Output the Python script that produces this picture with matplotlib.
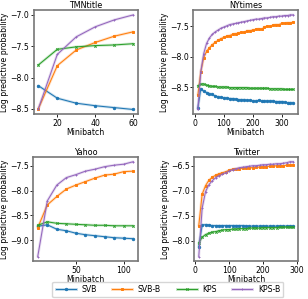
"""Log predictive probability vs minibatch for four datasets."""
import matplotlib
matplotlib.use("Agg")
import matplotlib.pyplot as plt
from matplotlib.lines import Line2D

plt.rcParams["font.family"] = ["DejaVu Sans"]
plt.rcParams["font.size"] = 5.6

METHODS = ["SVB", "SVB-B", "KPS", "KPS-B"]
COLORS = ["#1f77b4", "#ff7f0e", "#2ca02c", "#9467bd"]
MARKERS = ["o", "s", "x", "+"]

# ---- TMNtitle ----
tmn_x = [10, 20, 30, 40, 50, 60]
tmn_svb = [-8.13, -8.33, -8.41, -8.45, -8.48, -8.51]
tmn_svbb = [-8.50, -7.81, -7.56, -7.44, -7.34, -7.27]
tmn_kps = [-7.80, -7.55, -7.51, -7.49, -7.48, -7.46]
tmn_kpsb = [-8.50, -7.63, -7.35, -7.19, -7.08, -7.00]

# ---- NYtimes ----
nyt_x = list(range(10, 341, 10))
nyt_svb = [-8.84, -8.53, -8.57, -8.59, -8.61, -8.62, -8.65, -8.66, -8.67, -8.68,
           -8.68, -8.69, -8.69, -8.70, -8.71, -8.71, -8.71, -8.72, -8.72, -8.73,
           -8.73, -8.72, -8.73, -8.73, -8.73, -8.73, -8.73, -8.74, -8.74, -8.74,
           -8.75, -8.76, -8.76, -8.76]
nyt_svbb = [-8.63, -8.25, -8.02, -7.91, -7.85, -7.80, -7.76, -7.73, -7.70, -7.68,
            -7.66, -7.65, -7.63, -7.62, -7.61, -7.60, -7.60, -7.57, -7.57, -7.56,
            -7.55, -7.54, -7.55, -7.51, -7.50, -7.50, -7.48, -7.47, -7.47, -7.45,
            -7.45, -7.44, -7.44, -7.43]
nyt_kps = [-8.48, -8.45, -8.45, -8.47, -8.48, -8.49, -8.49, -8.50, -8.50, -8.50,
           -8.50, -8.51, -8.51, -8.51, -8.51, -8.51, -8.51, -8.51, -8.52, -8.52,
           -8.52, -8.52, -8.52, -8.52, -8.52, -8.53, -8.53, -8.53, -8.53, -8.53,
           -8.54, -8.54, -8.54, -8.54]
nyt_kpsb = [-8.87, -8.25, -7.95, -7.78, -7.69, -7.63, -7.59, -7.56, -7.53, -7.51,
            -7.49, -7.47, -7.46, -7.45, -7.44, -7.43, -7.42, -7.41, -7.40, -7.39,
            -7.38, -7.38, -7.37, -7.36, -7.36, -7.35, -7.34, -7.34, -7.33, -7.33,
            -7.32, -7.32, -7.31, -7.31]

# ---- Yahoo ----
yah_x = [10, 20, 30, 40, 50, 60, 70, 80, 90, 100, 110]
yah_svb = [-8.72, -8.69, -8.78, -8.81, -8.86, -8.89, -8.91, -8.93, -8.95, -8.96, -8.97]
yah_svbb = [-8.75, -8.29, -8.12, -7.97, -7.89, -7.82, -7.75, -7.69, -7.67, -7.62, -7.61]
yah_kps = [-8.70, -8.63, -8.66, -8.67, -8.68, -8.69, -8.70, -8.70, -8.71, -8.71, -8.71]
yah_kpsb = [-9.33, -8.21, -7.89, -7.74, -7.68, -7.61, -7.57, -7.52, -7.49, -7.47, -7.42]

# ---- Twitter ----
twt_x = list(range(10, 291, 10))
twt_svb = [-8.12, -7.69, -7.68, -7.69, -7.70, -7.70, -7.70, -7.70, -7.70, -7.70,
           -7.70, -7.70, -7.70, -7.70, -7.71, -7.71, -7.71, -7.71, -7.71, -7.71,
           -7.71, -7.71, -7.71, -7.71, -7.71, -7.71, -7.71, -7.71, -7.71]
twt_svbb = [-7.70, -7.07, -6.90, -6.79, -6.73, -6.69, -6.66, -6.64, -6.62, -6.59,
            -6.57, -6.56, -6.56, -6.55, -6.55, -6.54, -6.54, -6.53, -6.53, -6.52,
            -6.52, -6.51, -6.51, -6.50, -6.50, -6.50, -6.49, -6.49, -6.48]
twt_kps = [-8.05, -7.93, -7.88, -7.85, -7.83, -7.82, -7.80, -7.79, -7.78, -7.78,
           -7.77, -7.77, -7.76, -7.76, -7.76, -7.75, -7.75, -7.75, -7.75, -7.74,
           -7.74, -7.74, -7.74, -7.74, -7.73, -7.73, -7.73, -7.73, -7.73]
twt_kpsb = [-8.32, -7.35, -7.02, -6.88, -6.80, -6.74, -6.70, -6.67, -6.64, -6.61,
            -6.58, -6.56, -6.54, -6.53, -6.52, -6.51, -6.50, -6.50, -6.49, -6.48,
            -6.48, -6.47, -6.47, -6.46, -6.46, -6.45, -6.44, -6.42, -6.42]

PANELS = [
    ("TMNtitle", tmn_x, [tmn_svb, tmn_svbb, tmn_kps, tmn_kpsb], [20, 40, 60]),
    ("NYtimes", nyt_x, [nyt_svb, nyt_svbb, nyt_kps, nyt_kpsb], [0, 100, 200, 300]),
    ("Yahoo", yah_x, [yah_svb, yah_svbb, yah_kps, yah_kpsb], [50, 100]),
    ("Twitter", twt_x, [twt_svb, twt_svbb, twt_kps, twt_kpsb], [0, 100, 200, 300]),
]

# axes rectangles in figure fractions (left, bottom, width, height)
RECTS = [
    (0.109, 0.618, 0.339, 0.348),
    (0.627, 0.618, 0.341, 0.348),
    (0.107, 0.126, 0.341, 0.349),
    (0.630, 0.126, 0.338, 0.349),
]


def draw(ax, title, xs, series, xticks):
    for ys, c, m in zip(series, COLORS, MARKERS):
        ax.plot(xs, ys, color=c, lw=2.0, alpha=0.22, solid_capstyle="round")
        ax.plot(xs, ys, color=c, lw=0.75, marker=m, ms=1.7, mew=0.7)
    ax.set_title(title, fontsize=5.8, pad=1.5)
    ax.set_xlabel("Minibatch", labelpad=0)
    ax.set_ylabel("Log predictive probability", labelpad=0.8)
    ax.set_xticks(xticks)
    ax.tick_params(length=2.2, width=0.6, pad=1.0, labelsize=5.6)
    for sp in ax.spines.values():
        sp.set_color("#777777")
        sp.set_linewidth(1.2)


fig = plt.figure(figsize=(3.08, 2.99), dpi=100)
for (title, xs, series, xticks), rect in zip(PANELS, RECTS):
    ax = fig.add_axes(rect)
    draw(ax, title, xs, series, xticks)

handles = []
for c, m in zip(COLORS, MARKERS):
    pale = Line2D([], [], color=c, lw=2.0, alpha=0.3)
    mark = Line2D([], [], color=c, lw=0.75, marker=m, ms=1.7, mew=0.7)
    handles.append((pale, mark))

fig.legend(handles, METHODS, loc="lower center", ncol=4,
           bbox_to_anchor=(0.545, 0.0), borderaxespad=0.25, fontsize=5.6,
           frameon=True, handlelength=2.6, columnspacing=2.0,
           handletextpad=0.7, borderpad=0.4)

fig.savefig("out.png", dpi=100)
